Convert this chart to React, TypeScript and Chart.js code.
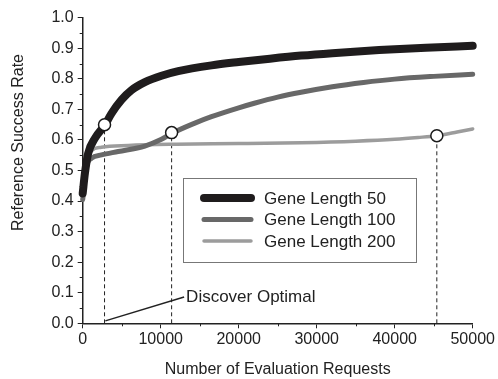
import React, { useEffect, useRef } from 'react';
import { Chart, registerables } from 'chart.js';

Chart.register(...registerables);

const FONT = '"Liberation Sans", Arial, sans-serif';

const xTickValues = [0, 10000, 20000, 30000, 40000, 50000];
const yTickStep = 0.1;
const xTitle = 'Number of Evaluation Requests';
const yTitle = 'Reference Success Rate';

const seriesLabels = ['Gene Length 50', 'Gene Length 100', 'Gene Length 200'];
const seriesColors = ['#1f1c1d', '#686868', '#9c9c9c'];
const seriesWidths = [8, 5, 3.5];

const x50 = [0, 280, 700, 1560, 2850, 3700, 4970, 6260, 7970, 10100, 12240, 16510, 20000, 24000, 28000, 32000, 38000, 44000, 50000];
const y50 = [0.425, 0.49, 0.556, 0.605, 0.649, 0.687, 0.731, 0.763, 0.789, 0.81, 0.825, 0.844, 0.855, 0.866, 0.876, 0.884, 0.894, 0.902, 0.908];

const x100 = [0, 490, 1130, 2410, 4550, 7970, 10100, 11470, 14380, 16510, 20000, 22000, 25000, 28000, 32000, 36000, 40000, 45000, 50000];
const y100 = [0.405, 0.512, 0.54, 0.551, 0.562, 0.58, 0.602, 0.622, 0.655, 0.676, 0.705, 0.72, 0.74, 0.756, 0.774, 0.788, 0.799, 0.808, 0.815];

const x200 = [0, 490, 1130, 2410, 5830, 12000, 20000, 28000, 35000, 40000, 43000, 45400, 48000, 50000];
const y200 = [0.41, 0.534, 0.565, 0.576, 0.582, 0.586, 0.588, 0.591, 0.596, 0.602, 0.608, 0.614, 0.626, 0.636];

const markerX = [2800, 11400, 45400];
const markerY = [0.65, 0.624, 0.614];

const calloutX = [2900, 13000];
const calloutY = [0.008, 0.086];
const calloutText = 'Discover Optimal';

const toPoints = (xs: number[], ys: number[]) => xs.map((x, i) => ({ x, y: ys[i] }));

const overlayPlugin = {
  id: 'overlay',
  afterDraw(chart: any) {
    const { ctx, chartArea, scales } = chart;
    const xs = scales.x;
    const ys = scales.y;
    ctx.save();
    // minor ticks
    ctx.strokeStyle = '#222';
    ctx.lineWidth = 1;
    for (let k = 0; k < 10; k++) {
      const py = Math.round(ys.getPixelForValue(0.05 + k * 0.1)) + 0.5;
      ctx.beginPath();
      ctx.moveTo(chartArea.left - 3, py);
      ctx.lineTo(chartArea.left, py);
      ctx.stroke();
    }
    for (let k = 0; k < 5; k++) {
      const px = Math.round(xs.getPixelForValue(5000 + k * 10000)) + 0.5;
      ctx.beginPath();
      ctx.moveTo(px, chartArea.bottom);
      ctx.lineTo(px, chartArea.bottom + 3);
      ctx.stroke();
    }
    // callout text
    ctx.fillStyle = '#222';
    ctx.font = `17px ${FONT}`;
    ctx.textAlign = 'left';
    ctx.textBaseline = 'middle';
    ctx.fillText(calloutText, xs.getPixelForValue(calloutX[1]) + 2, ys.getPixelForValue(calloutY[1]));

    // legend
    const bx = 183, by = 178, bw = 233, bh = 84;
    ctx.fillStyle = '#ffffff';
    ctx.fillRect(bx, by, bw, bh);
    ctx.strokeStyle = '#777';
    ctx.lineWidth = 1;
    ctx.strokeRect(bx + 0.5, by + 0.5, bw, bh);
    const rowY = [198, 219.5, 241];
    seriesLabels.forEach((lab, i) => {
      ctx.strokeStyle = seriesColors[i];
      ctx.lineWidth = seriesWidths[i];
      ctx.lineCap = 'round';
      ctx.beginPath();
      ctx.moveTo(bx + 21, rowY[i]);
      ctx.lineTo(bx + 68, rowY[i]);
      ctx.stroke();
      ctx.fillStyle = '#222';
      ctx.font = `17px ${FONT}`;
      ctx.textBaseline = 'middle';
      ctx.fillText(lab, bx + 81, rowY[i] + 1);
    });

    // y title
    ctx.translate(19, 142.5);
    ctx.rotate(-Math.PI / 2);
    ctx.fillStyle = '#222';
    ctx.font = `16px ${FONT}`;
    ctx.textAlign = 'center';
    ctx.textBaseline = 'middle';
    ctx.fillText(yTitle, 0, 0);
    ctx.restore();
  },
};

export default function App() {
  const ref = useRef<HTMLCanvasElement | null>(null);

  useEffect(() => {
    if (!ref.current) return;
    const seriesX = [x50, x100, x200];
    const seriesY = [y50, y100, y200];
    const curveSets = seriesLabels.map((label, i) => ({
      label,
      data: toPoints(seriesX[i], seriesY[i]),
      borderColor: seriesColors[i],
      backgroundColor: seriesColors[i],
      borderWidth: seriesWidths[i],
      borderCapStyle: 'round' as const,
      borderJoinStyle: 'round' as const,
      cubicInterpolationMode: 'monotone' as const,
      pointRadius: 0,
      fill: false,
      clip: false as any,
      order: 3 + i,
    }));
    const dropSets = markerX.map((mx, i) => ({
      label: 'drop' + i,
      data: [{ x: mx, y: 0 }, { x: mx, y: markerY[i] }],
      borderColor: '#222',
      borderWidth: 1,
      borderDash: [4, 3],
      pointRadius: 0,
      fill: false,
      order: 10,
    }));
    const calloutSet = {
      label: 'callout',
      data: toPoints(calloutX, calloutY),
      borderColor: '#222',
      borderWidth: 1.5,
      pointRadius: 0,
      fill: false,
      order: 2,
    };
    const markerSet = {
      label: 'markers',
      data: toPoints(markerX, markerY),
      showLine: false,
      pointRadius: 6,
      pointBackgroundColor: '#ffffff',
      pointBorderColor: '#1a1a1a',
      pointBorderWidth: 1.5,
      borderColor: '#1a1a1a',
      backgroundColor: '#ffffff',
      order: 0,
      clip: false as any,
    };

    const chart = new Chart(ref.current, {
      type: 'line',
      data: { datasets: [markerSet, calloutSet, ...curveSets, ...dropSets] as any },
      options: {
        animation: false,
        responsive: false,
        devicePixelRatio: 1,
        layout: { padding: { top: 17.7, right: 25.3, left: 0, bottom: 0 } },
        plugins: { legend: { display: false }, tooltip: { enabled: false } },
        scales: {
          x: {
            type: 'linear',
            min: 0,
            max: 50000,
            afterBuildTicks: (scale: any) => {
              scale.ticks = xTickValues.map((v) => ({ value: v }));
            },
            afterFit: (scale: any) => {
              scale.height = 55.7;
            },
            ticks: {
              color: '#222',
              font: { family: FONT, size: 16 },
              padding: 2,
              maxRotation: 0,
              callback: (v: any) => String(v),
            },
            grid: {
              drawOnChartArea: false,
              drawTicks: true,
              tickLength: 5,
              color: '#222',
              lineWidth: 1,
            },
            border: { display: true, color: '#222', width: 1.5 },
            title: {
              display: true,
              text: xTitle,
              color: '#222',
              font: { family: FONT, size: 16 },
              padding: { top: 0, bottom: 0 },
            },
          },
          y: {
            type: 'linear',
            min: 0,
            max: 1,
            afterFit: (scale: any) => {
              scale.width = 82.7;
            },
            ticks: {
              stepSize: yTickStep,
              color: '#222',
              font: { family: FONT, size: 16 },
              padding: 4,
              callback: (v: any) => Number(v).toFixed(1),
            },
            grid: {
              drawOnChartArea: false,
              drawTicks: true,
              tickLength: 5,
              color: '#222',
              lineWidth: 1,
            },
            border: { display: true, color: '#222', width: 1.5 },
          },
        },
      },
      plugins: [overlayPlugin],
    } as any);
    return () => chart.destroy();
  }, []);

  return (
    <div style={{ position: 'absolute', left: 0, top: 0, width: 498, height: 379, background: '#fff' }}>
      <canvas ref={ref} width={498} height={379} style={{ width: 498, height: 379, display: 'block' }} />
    </div>
  );
}
